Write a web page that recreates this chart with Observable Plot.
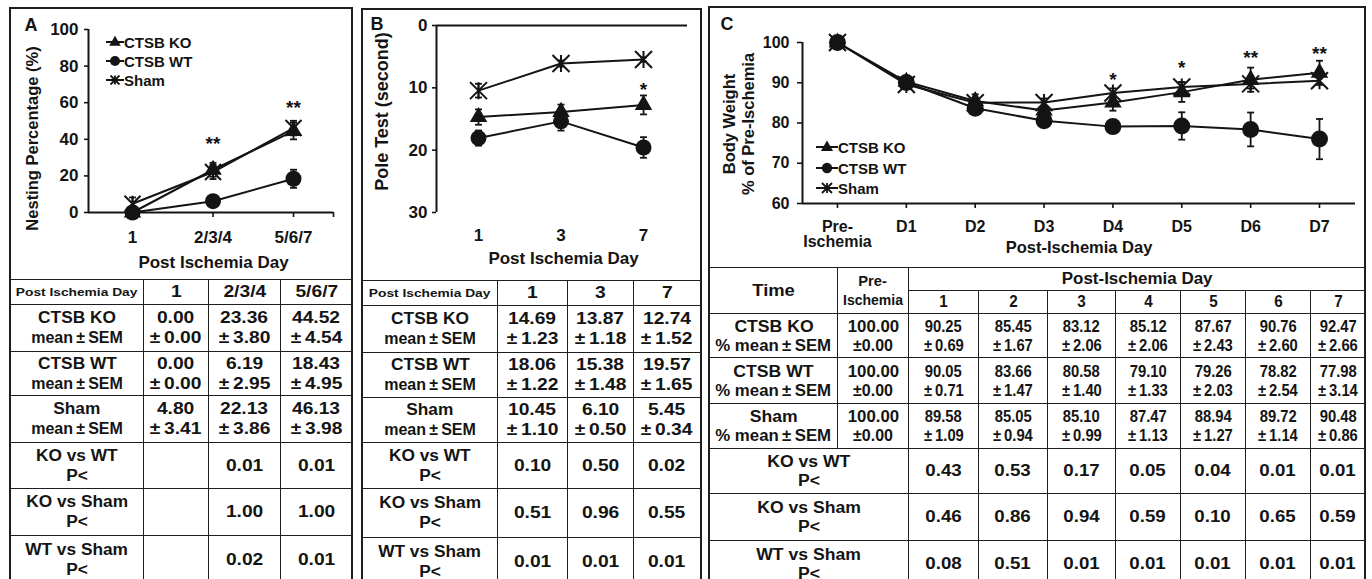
<!DOCTYPE html>
<html><head><meta charset="utf-8">
<script src="https://cdn.jsdelivr.net/npm/d3@7"></script>
<script src="https://cdn.jsdelivr.net/npm/@observablehq/plot@0.6"></script>
<style>
html,body{margin:0;padding:0;background:#fff;}
#root{position:relative;width:1372px;height:579px;overflow:hidden;background:#fff;font-family:"Liberation Sans",Arial,sans-serif;font-weight:bold;color:#141414;}
.panel{position:absolute;border:2px solid #1e1e1e;box-sizing:border-box;}
.box{position:absolute;}
.lbl{position:absolute;transform:translate(-50%,-50%);line-height:1;white-space:nowrap;}
table.t{position:absolute;border-collapse:collapse;table-layout:fixed;}
table.t td{border:1.5px solid #1e1e1e;padding:0;text-align:center;vertical-align:middle;white-space:nowrap;line-height:20px;}
.leg{position:absolute;display:flex;align-items:center;height:18px;white-space:nowrap;}
.leg svg{display:block;}
</style></head>
<body><div id="root"></div>
<script>
// ---------------- DATA ----------------
const groupNames = ["CTSB KO", "CTSB WT", "Sham"];
const pLabels = ["KO vs WT", "KO vs Sham", "WT vs Sham"];

// Panel A: nesting
const daysA = ["1", "2/3/4", "5/6/7"];
const koA = [0.00, 23.36, 44.52];
const koASem = [0.00, 3.80, 4.54];
const wtA = [0.00, 6.19, 18.43];
const wtASem = [0.00, 2.95, 4.95];
const shamA = [4.80, 22.13, 46.13];
const shamASem = [3.41, 3.86, 3.98];
const koWtA = [null, 0.01, 0.01];
const koShamA = [null, 1.00, 1.00];
const wtShamA = [null, 0.02, 0.01];
const starDaysA = ["2/3/4", "5/6/7"];
const starYA = [40.4, 60.1];
const starTxtA = ["**", "**"];
const yTicksA = [0, 20, 40, 60, 80, 100];

// Panel B: pole test
const daysB = ["1", "3", "7"];
const koB = [14.69, 13.87, 12.74];
const koBSem = [1.23, 1.18, 1.52];
const wtB = [18.06, 15.38, 19.57];
const wtBSem = [1.22, 1.48, 1.65];
const shamB = [10.45, 6.10, 5.45];
const shamBSem = [1.10, 0.50, 0.34];
const koWtB = [0.10, 0.50, 0.02];
const koShamB = [0.51, 0.96, 0.55];
const wtShamB = [0.01, 0.01, 0.01];
const starDaysB = ["7"];
const starYB = [9.6];
const starTxtB = ["*"];
const yTicksB = [0, 10, 20, 30];

// Panel C: body weight
const daysC = ["Pre-\nIschemia", "D1", "D2", "D3", "D4", "D5", "D6", "D7"];
const tableDaysC = ["1", "2", "3", "4", "5", "6", "7"];
const koC = [100.00, 90.25, 85.45, 83.12, 85.12, 87.67, 90.76, 92.47];
const koCSem = [0.00, 0.69, 1.67, 2.06, 2.06, 2.43, 2.60, 2.66];
const wtC = [100.00, 90.05, 83.66, 80.58, 79.10, 79.26, 78.82, 77.98];
const wtCSem = [0.00, 0.71, 1.47, 1.40, 1.33, 2.03, 2.54, 3.14];
const shamC = [100.00, 89.58, 85.05, 85.10, 87.47, 88.94, 89.72, 90.48];
const shamCSem = [0.00, 1.09, 0.94, 0.99, 1.13, 1.27, 1.14, 0.86];
// values as drawn in the plot of C
const koCPlot = [100.0, 90.25, 85.45, 83.12, 85.12, 87.67, 90.76, 92.47];
const koCBar = [0.0, 0.69, 1.67, 2.06, 2.06, 2.43, 3.0, 3.0];
const wtCPlot = [100.0, 90.05, 83.66, 80.58, 79.10, 79.26, 78.4, 76.0];
const wtCBar = [0.0, 0.71, 1.47, 1.40, 1.33, 3.4, 4.2, 5.0];
const shamCPlot = [100.0, 89.58, 85.05, 85.10, 87.47, 88.94, 89.72, 90.48];
const shamCBar = [0.0, 1.09, 0.94, 0.99, 1.13, 1.27, 1.14, 0.86];
const koWtC = [0.43, 0.53, 0.17, 0.05, 0.04, 0.01, 0.01];
const koShamC = [0.46, 0.86, 0.94, 0.59, 0.10, 0.65, 0.59];
const wtShamC = [0.08, 0.51, 0.01, 0.01, 0.01, 0.01, 0.01];
const starDaysC = ["D4", "D5", "D6", "D7"];
const starYC = [92.0, 95.0, 97.5, 98.3];
const starTxtC = ["*", "*", "**", "**"];
const yTicksC = [60, 70, 80, 90, 100];

// ---------------- HELPERS ----------------
const INK = "#141414";
const root = document.getElementById("root");
const STAR = {draw(ctx, size) {const r = Math.sqrt(size / Math.PI);
  ctx.moveTo(-r, -r); ctx.lineTo(r, r); ctx.moveTo(-r, r); ctx.lineTo(r, -r);
  ctx.moveTo(0, -r); ctx.lineTo(0, r);}};
const CAP = {draw(ctx, size) {const r = Math.sqrt(size / Math.PI); ctx.moveTo(-r, 0); ctx.lineTo(r, 0);}};

function el(tag, cls, style, html) {
  const e = document.createElement(tag);
  if (cls) e.className = cls;
  Object.assign(e.style, style || {});
  if (html != null) e.innerHTML = html;
  root.appendChild(e);
  return e;
}
const sx = (s, k) => `<span style="display:inline-block;transform:scaleX(${k})">${s}</span>`;

function drawChart(cfg) {
  const rows = [];
  cfg.groups.forEach((g, k) => g.mean.forEach((m, i) => rows.push({i, k, group: groupNames[k], mean: m, bar: g.bar[i]})));
  const withBar = rows.filter(d => d.bar > 0);
  const stars = cfg.starDays.map((d, j) => ({i: cfg.days.indexOf(d), y: cfg.starY[j], t: cfg.starTxt[j]}));
  const marks = [
    Plot.ruleY([cfg.xAxisAt], {stroke: INK, strokeWidth: 2}),
    Plot.ruleX([cfg.xDomain[0]], {stroke: INK, strokeWidth: 2}),
    Plot.axisY({ticks: cfg.yTicks, tickSize: cfg.ty[0], tickPadding: cfg.ty[1], label: null, strokeWidth: 1.6, fontSize: cfg.fs.tick}),
    Plot.axisX({ticks: cfg.xTicks, tickFormat: v => cfg.days[v] ?? "", tickSize: cfg.tx[0], tickPadding: cfg.tx[1],
      label: null, strokeWidth: 1.6, fontSize: cfg.fs.tick, lineHeight: 0.95}),
    Plot.ruleX(withBar, {x: "i", y1: d => d.mean - d.bar, y2: d => d.mean + d.bar, stroke: INK, strokeWidth: 1.8}),
    Plot.dot(withBar, {x: "i", y: d => d.mean + d.bar, symbol: CAP, r: 3.5, stroke: INK, strokeWidth: 1.8, fill: "none"}),
    Plot.dot(withBar, {x: "i", y: d => d.mean - d.bar, symbol: CAP, r: 3.5, stroke: INK, strokeWidth: 1.8, fill: "none"}),
    Plot.line(rows, {x: "i", y: "mean", z: "group", stroke: INK, strokeWidth: 2}),
    Plot.dot(rows.filter(d => d.k === 0), {x: "i", y: "mean", symbol: d3.symbolTriangle, r: cfg.r[0], fill: INK, stroke: "none"}),
    Plot.dot(rows.filter(d => d.k === 1), {x: "i", y: "mean", r: cfg.r[1], fill: INK, stroke: "none"}),
    Plot.dot(rows.filter(d => d.k === 2), {x: "i", y: "mean", symbol: STAR, r: cfg.r[2], stroke: INK, fill: "none", strokeWidth: 2}),
    Plot.text(stars, {x: "i", y: "y", text: "t", fontSize: 19, dy: 5}),
    Plot.text([cfg.xTitle], {text: d => d, frameAnchor: "bottom", dy: cfg.xt[1], dx: cfg.xt[0],
      textAnchor: "middle", lineAnchor: "middle", fontSize: cfg.fs.xTitle}),
    Plot.text([cfg.yTitle], {text: d => d, frameAnchor: "left", rotate: -90, dx: cfg.yt[0], dy: cfg.yt[1],
      textAnchor: "middle", lineAnchor: "middle", fontSize: cfg.fs.yTitle, lineHeight: cfg.ytLH || 1})
  ];
  const p = Plot.plot({
    width: cfg.box.width, height: cfg.box.height,
    marginTop: cfg.m[0], marginRight: cfg.m[1], marginBottom: cfg.m[2], marginLeft: cfg.m[3],
    x: {domain: cfg.xDomain},
    y: {domain: cfg.yDomain, reverse: !!cfg.yReverse},
    style: {fontFamily: '"Liberation Sans", Arial, sans-serif', fontWeight: "bold", fontSize: "15px",
      color: INK, background: "transparent", overflow: "visible"},
    marks
  });
  const holder = el("div", "box", {left: cfg.box.left + "px", top: cfg.box.top + "px",
    width: cfg.box.width + "px", height: cfg.box.height + "px"});
  holder.appendChild(p);
}

function legend(left, ys, lineW, fs, rs) {
  groupNames.forEach((name, k) => {
    const c = lineW / 2;
    let sym;
    if (k === 1) sym = `<circle cx="${c}" cy="9" r="${rs[1]}" fill="${INK}"/>`;
    else if (k === 0) sym = `<path transform="translate(${c},9.5)" d="${d3.symbol(d3.symbolTriangle, Math.PI * rs[0] * rs[0])()}" fill="${INK}"/>`;
    else sym = `<path transform="translate(${c},9)" d="${d3.symbol(STAR, Math.PI * rs[2] * rs[2])()}" fill="none" stroke="${INK}" stroke-width="1.8"/>`;
    el("div", "leg", {left: left + "px", top: (ys[k] - 9) + "px", fontSize: fs + "px"},
      `<svg width="${lineW}" height="18"><line x1="0" x2="${lineW}" y1="9" y2="9" stroke="${INK}" stroke-width="2"/>${sym}</svg><span>${name}</span>`);
  });
}

function abTable(left, top, cols, rowsH, days, groups, pvals) {
  let h = `<colgroup>${cols.map(w => `<col style="width:${w}px">`).join("")}</colgroup>`;
  h += `<tr style="height:${rowsH[0]}px"><td style="font-size:11px">${sx("Post Ischemia Day", 1.25)}</td>` +
    days.map(d => `<td style="font-size:16px">${sx(d, 1.2)}</td>`).join("") + `</tr>`;
  groups.forEach((g, k) => {
    h += `<tr style="height:${rowsH[1 + k]}px"><td style="font-size:16px">${sx(groupNames[k], 1.08)}<br>${sx("mean\u2009±\u2009SEM", 1.0)}</td>` +
      g.mean.map((m, i) => `<td style="font-size:16px">${sx(m.toFixed(2), 1.2)}<br>${sx("±\u2009" + g.sem[i].toFixed(2), 1.2)}</td>`).join("") + `</tr>`;
  });
  pvals.forEach((vals, k) => {
    h += `<tr style="height:${rowsH[4 + k]}px"><td style="font-size:16px">${sx(pLabels[k], 1.08)}<br>${sx("P&lt;", 1.08)}</td>` +
      vals.map(v => `<td style="font-size:16px">${v == null ? "" : sx(v.toFixed(2), 1.2)}</td>`).join("") + `</tr>`;
  });
  el("table", "t", {left: left + "px", top: top + "px", width: d3.sum(cols) + "px"}, h);
}

function cTable(left, top, cols, rowsH) {
  const groups = [[koC, koCSem], [wtC, wtCSem], [shamC, shamCSem]];
  const pv = [koWtC, koShamC, wtShamC];
  let h = `<colgroup>${cols.map(w => `<col style="width:${w}px">`).join("")}</colgroup>`;
  h += `<tr style="height:${rowsH[0]}px"><td rowspan="2" style="font-size:16px">${sx("Time", 1.15)}</td>` +
    `<td rowspan="2" style="font-size:14px;line-height:19px">${sx("Pre-", 1.05)}<br>${sx("Ischemia", 1.0)}</td>` +
    `<td colspan="7" style="font-size:16px">${sx("Post-Ischemia Day", 1.06)}</td></tr>`;
  h += `<tr style="height:${rowsH[1]}px">` + tableDaysC.map(d => `<td style="font-size:16px">${sx(d, 0.95)}</td>`).join("") + `</tr>`;
  groups.forEach(([m, s], k) => {
    h += `<tr style="height:${rowsH[2 + k]}px"><td style="font-size:16px;line-height:19px">${sx(groupNames[k], 1.1)}<br>${sx("% mean\u2009±\u2009SEM", 1.05)}</td>` +
      `<td style="font-size:16px;line-height:19px">${sx(m[0].toFixed(2), 1.05)}<br>${sx("±" + s[0].toFixed(2), 1.0)}</td>` +
      m.slice(1).map((v, i) => `<td style="font-size:17px;line-height:19px">${sx(v.toFixed(2), 0.87)}<br>${sx("±\u2009" + s[i + 1].toFixed(2), 0.87)}</td>`).join("") + `</tr>`;
  });
  pv.forEach((vals, k) => {
    h += `<tr style="height:${rowsH[5 + k]}px"><td colspan="2" style="font-size:16px;line-height:19px">${sx(pLabels[k], 1.1)}<br>${sx("P&lt;", 1.1)}</td>` +
      vals.map(v => `<td style="font-size:17px">${sx(v.toFixed(2), 1.1)}</td>`).join("") + `</tr>`;
  });
  el("table", "t", {left: left + "px", top: top + "px", width: d3.sum(cols) + "px"}, h);
}

// ---------------- PANELS ----------------
el("div", "panel", {left: "9px", top: "7px", width: "344px", height: "640px"});
el("div", "panel", {left: "361px", top: "8px", width: "341px", height: "640px"});
el("div", "panel", {left: "708px", top: "6px", width: "658px", height: "640px"});

drawChart({
  box: {left: 10, top: 8, width: 342, height: 271}, m: [21, 19, 67, 78],
  days: daysA, xDomain: [-0.547, 2.497], xTicks: [0, 1, 2, 2.497],
  yDomain: [0, 100], yTicks: yTicksA, xAxisAt: 0,
  tx: [5, 14.5], ty: [4, 6], fs: {tick: 17, xTitle: 17, yTitle: 16.5},
  groups: [{mean: koA, bar: koASem}, {mean: wtA, bar: wtASem}, {mean: shamA, bar: shamASem}],
  starDays: starDaysA, starY: starYA, starTxt: starTxtA,
  xTitle: "Post Ischemia Day", xt: [2.5, 50], yTitle: "Nesting Percentage (%)", yt: [-56, 17.5],
  r: [6.5, 8, 8]
});
drawChart({
  box: {left: 362, top: 9, width: 338, height: 271}, m: [16, 13, 68, 74],
  days: daysB, xDomain: [-0.509, 2.533], xTicks: [0, 1, 2],
  yDomain: [0, 30], yReverse: true, yTicks: yTicksB, xAxisAt: 0,
  tx: [0, 17], ty: [4, 5], fs: {tick: 17, xTitle: 17, yTitle: 18},
  groups: [{mean: koB, bar: koBSem}, {mean: wtB, bar: wtBSem}, {mean: shamB, bar: shamBSem}],
  starDays: starDaysB, starY: starYB, starTxt: starTxtB,
  xTitle: "Post Ischemia Day", xt: [1.5, 46], yTitle: "Pole Test (second)", yt: [-54, -7.5],
  r: [6.5, 8, 8.5]
});
drawChart({
  box: {left: 709, top: 7, width: 656, height: 260}, m: [35, 10, 64, 93],
  days: daysC, xDomain: [-0.508, 7.523], xTicks: [0, 1, 2, 3, 4, 5, 6, 7],
  yDomain: [60, 100], yTicks: yTicksC, xAxisAt: 60,
  tx: [5, 13], ty: [5, 8], fs: {tick: 16, xTitle: 16.5, yTitle: 16.5},
  groups: [{mean: koCPlot, bar: koCBar}, {mean: wtCPlot, bar: wtCBar}, {mean: shamCPlot, bar: shamCBar}],
  starDays: starDaysC, starY: starYC, starTxt: starTxtC,
  xTitle: "Post-Ischemia Day", xt: [0, 44], yTitle: "Body Weight\n% of Pre-Ischemia", yt: [-64.5, 1], ytLH: 1.17,
  r: [6.5, 8.5, 8.5]
});

legend(106, [42, 61, 80], 18, 15, [4.3, 5, 4.5]);
legend(816, [147, 168, 188], 22, 15, [4.5, 5.2, 5]);

el("div", "lbl", {left: "31px", top: "25px", fontSize: "18px"}, "A");
el("div", "lbl", {left: "377px", top: "24px", fontSize: "18px"}, "B");
el("div", "lbl", {left: "727px", top: "24px", fontSize: "18px"}, "C");

abTable(10, 279, [133, 65, 72, 72], [25, 47, 44, 47, 46, 47, 48], daysA,
  [{mean: koA, sem: koASem}, {mean: wtA, sem: wtASem}, {mean: shamA, sem: shamASem}], [koWtA, koShamA, wtShamA]);
abTable(362, 280, [135, 70, 66, 67], [25, 47, 45, 45, 46, 49, 48], daysB,
  [{mean: koB, sem: koBSem}, {mean: wtB, sem: wtBSem}, {mean: shamB, sem: shamBSem}], [koWtB, koShamB, wtShamB]);
cTable(709, 267, [128, 71, 70, 69, 68, 65, 65, 65, 55], [23, 23, 44, 46, 45, 45, 47, 47]);
</script></body></html>
